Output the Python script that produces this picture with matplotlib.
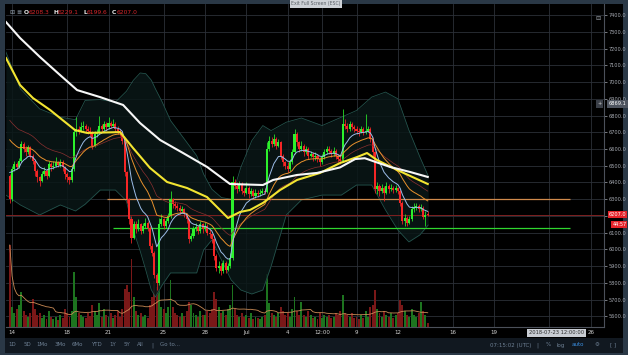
import numpy as np
import pandas as pd
import matplotlib
matplotlib.use("Agg")
import matplotlib.pyplot as plt
from matplotlib.patches import Rectangle

# ---------------- data (4h candles, BTC, Jun 13 20:00 -> Jul 14 04:00 UTC) ----------------
# time axis in days, day 0 = Jun 14 00:00
first_open = 6440
closes = [6300,
    6480, 6510, 6495, 6530, 6630, 6600,   # Jun 14
    6580, 6610, 6560, 6530, 6470, 6430,   # Jun 15
    6410, 6450, 6470, 6440, 6510, 6490,   # Jun 16
    6500, 6520, 6505, 6525, 6490, 6450,   # Jun 17
    6430, 6415, 6480, 6700, 6720, 6710,   # Jun 18
    6730, 6740, 6720, 6710, 6700, 6620,   # Jun 19
    6690, 6700, 6740, 6720, 6750, 6730,   # Jun 20
    6755, 6740, 6750, 6720, 6710, 6700,   # Jun 21
    6650, 6460, 6300, 6180, 6070, 6150,   # Jun 22
    6120, 6150, 6110, 6140, 6160, 6130,   # Jun 23
    6020, 5980, 5850, 5800, 6150, 6180,   # Jun 24
    6140, 6170, 6200, 6300, 6270, 6260,   # Jun 25
    6250, 6230, 6240, 6210, 6180, 6060,   # Jun 26
    6080, 6120, 6135, 6110, 6150, 6120,   # Jun 27
    6140, 6100, 6090, 6060, 5960, 5890,   # Jun 28
    5900, 5870, 5920, 5880, 5900, 5950,   # Jun 29
    6400, 6380, 6360, 6390, 6350, 6340,   # Jun 30
    6370, 6330, 6350, 6320, 6340, 6330,   # Jul 1
    6340, 6350, 6345, 6600, 6650, 6630,   # Jul 2
    6660, 6620, 6640, 6560, 6520, 6500,   # Jul 3
    6480, 6520, 6580, 6690, 6640, 6600,   # Jul 4
    6620, 6580, 6600, 6560, 6570, 6550,   # Jul 5
    6560, 6540, 6520, 6550, 6580, 6600,   # Jul 6
    6590, 6570, 6590, 6560, 6540, 6530,   # Jul 7
    6750, 6740, 6720, 6750, 6730, 6720,   # Jul 8
    6710, 6700, 6720, 6700, 6710, 6720,   # Jul 9
    6660, 6580, 6360, 6380, 6350, 6370,   # Jul 10
    6340, 6380, 6360, 6370, 6355, 6365,   # Jul 11
    6350, 6280, 6170, 6190, 6160, 6180,   # Jul 12
    6240, 6250, 6260, 6240, 6250, 6195,   # Jul 13
    6208.3, 6207.0]                       # Jul 14
highs = [6450,
    6500, 6530, 6525, 6545, 6650, 6640,
    6620, 6625, 6615, 6570, 6540, 6480,
    6440, 6470, 6490, 6480, 6530, 6520,
    6530, 6550, 6530, 6540, 6535, 6500,
    6460, 6440, 6500, 6720, 6790, 6740,
    6760, 6770, 6750, 6735, 6730, 6710,
    6710, 6720, 6800, 6750, 6770, 6760,
    6790, 6770, 6780, 6760, 6735, 6720,
    6710, 6660, 6470, 6310, 6200, 6170,
    6170, 6180, 6160, 6160, 6185, 6170,
    6140, 6040, 5990, 5860, 6190, 6210,
    6190, 6190, 6220, 6350, 6310, 6290,
    6280, 6265, 6260, 6250, 6220, 6190,
    6100, 6140, 6160, 6145, 6170, 6160,
    6165, 6150, 6120, 6100, 6070, 5970,
    5930, 5920, 5940, 5930, 5920, 5980,
    6440, 6420, 6400, 6410, 6400, 6370,
    6400, 6380, 6370, 6360, 6360, 6355,
    6360, 6370, 6365, 6640, 6680, 6670,
    6690, 6670, 6660, 6650, 6570, 6530,
    6520, 6540, 6600, 6720, 6700, 6650,
    6650, 6630, 6620, 6610, 6590, 6580,
    6580, 6570, 6550, 6570, 6600, 6620,
    6620, 6600, 6610, 6600, 6570, 6560,
    6840, 6780, 6755, 6770, 6760, 6745,
    6735, 6725, 6740, 6730, 6810, 6740,
    6730, 6670, 6590, 6400, 6390, 6390,
    6380, 6400, 6390, 6390, 6380, 6385,
    6375, 6360, 6290, 6210, 6200, 6200,
    6260, 6275, 6280, 6270, 6270, 6260,
    6230, 6229.1]
lows = [6280,
    6290, 6470, 6480, 6485, 6520, 6585,
    6560, 6570, 6545, 6510, 6440, 6400,
    6380, 6400, 6440, 6420, 6430, 6470,
    6480, 6490, 6490, 6495, 6470, 6420,
    6400, 6390, 6405, 6470, 6680, 6690,
    6700, 6715, 6700, 6690, 6680, 6600,
    6610, 6670, 6690, 6700, 6710, 6715,
    6720, 6725, 6730, 6700, 6690, 6680,
    6630, 6440, 6280, 6150, 6040, 6060,
    6100, 6110, 6090, 6100, 6130, 6110,
    6000, 5960, 5830, 5760, 5790, 6140,
    6120, 6130, 6160, 6190, 6250, 6240,
    6230, 6210, 6215, 6195, 6160, 6040,
    6050, 6070, 6110, 6095, 6100, 6100,
    6110, 6085, 6070, 6040, 5940, 5870,
    5860, 5850, 5860, 5860, 5870, 5890,
    5940, 6360, 6340, 6350, 6330, 6320,
    6330, 6310, 6320, 6300, 6310, 6315,
    6320, 6330, 6330, 6340, 6590, 6610,
    6620, 6600, 6610, 6540, 6500, 6480,
    6460, 6470, 6510, 6570, 6620, 6580,
    6590, 6560, 6570, 6540, 6550, 6530,
    6535, 6520, 6500, 6510, 6540, 6570,
    6570, 6550, 6560, 6540, 6520, 6510,
    6520, 6720, 6700, 6710, 6715, 6700,
    6690, 6680, 6695, 6685, 6690, 6700,
    6640, 6560, 6340, 6330, 6320, 6340,
    6290, 6330, 6340, 6350, 6340, 6345,
    6330, 6260, 6150, 6140, 6140, 6150,
    6170, 6225, 6235, 6225, 6230, 6180,
    6140, 6199.6]
volumes = [82,
    20, 14, 18, 22, 35, 16,
    12, 10, 14, 28, 18, 12,
    14, 9, 12, 8, 16, 10,
    8, 10, 7, 12, 9, 18,
    14, 10, 16, 55, 30, 14,
    12, 10, 9, 14, 11, 22,
    16, 12, 24, 10, 18, 12,
    10, 14, 9, 12, 16, 10,
    18, 38, 42, 35, 68, 30,
    16, 12, 14, 10, 12, 9,
    22, 30, 46, 40, 50, 20,
    18, 14, 20, 47, 20, 14,
    12, 10, 14, 11, 16, 25,
    22, 14, 12, 10, 16, 12,
    12, 16, 14, 18, 35, 28,
    20, 14, 16, 12, 18, 22,
    42, 18, 12, 10, 14, 10,
    12, 9, 14, 8, 10, 9,
    8, 10, 12, 53, 24, 14,
    12, 10, 14, 20, 16, 12,
    14, 10, 18, 30, 16, 12,
    25, 12, 10, 16, 12, 9,
    10, 8, 14, 9, 12, 10,
    12, 9, 10, 14, 12, 16,
    32, 14, 12, 10, 14, 9,
    10, 8, 12, 9, 16, 10,
    20, 22, 37, 18, 14, 10,
    16, 12, 10, 14, 9, 12,
    14, 27, 22, 16, 12, 10,
    18, 12, 10, 14, 25, 16,
    12, 4]

# long moving averages (day, price)
white_t = [-0.44, 0.58, 2.03, 3.48, 4.72, 6.39, 8.06, 9.29, 10.74, 12.41, 14.15, 15.82,
           18.21, 18.94, 20.68, 22.13, 23.8, 24.9, 25.6, 26.3, 27.43, 28.88, 30.17]
white_v = [7358, 7263, 7149, 7042, 6952, 6910, 6863, 6755, 6654, 6576, 6493, 6391,
           6385, 6415, 6445, 6457, 6490, 6540, 6545, 6525, 6493, 6463, 6433]
yellow_t = [-0.44, 0.58, 1.52, 2.76, 4.57, 5.44, 7.84, 8.78, 10.01, 11.25, 12.7, 14.15,
            15.67, 16.55, 17.27, 18.21, 19.45, 20.68, 22.35, 23.8, 25.04, 25.76, 26.49,
            27.94, 30.17]
yellow_v = [7143, 6982, 6904, 6833, 6713, 6696, 6701, 6606, 6487, 6403, 6367, 6313,
            6188, 6224, 6236, 6278, 6355, 6415, 6457, 6516, 6552, 6576, 6534,
            6475, 6391]

# bollinger bands
band_t = [-0.45, 0.6, 2.0, 3.5, 4.6, 5.3, 6.4, 7.5, 8.3, 8.8, 9.3, 9.7, 10.1, 10.4, 10.9,
          11.5, 12.5, 13.4, 13.9, 14.5, 15.2, 15.9, 16.6, 17.4, 18.2, 18.8, 19.9, 21.0,
          22.5, 23.9, 25.0, 26.1, 27.1, 28.0, 28.8, 29.6, 30.2]
band_up = [7180, 6960, 6840, 6790, 6775, 6890, 6895, 6880, 6945, 7010, 7054, 7050, 7012,
           6960, 6880, 6770, 6660, 6560, 6450, 6360, 6310, 6300, 6490, 6650, 6740, 6710,
           6760, 6785, 6740, 6790, 6830, 6910, 6940, 6900, 6713, 6552, 6440]
band_lo = [6325, 6266, 6206, 6266, 6230, 6270, 6355, 6355, 6290, 6116, 5990, 5878, 5760,
           5716, 5788, 5860, 5860, 5860, 5997, 6057, 5937, 5818, 5758, 5734, 5758, 5900,
           6206, 6296, 6325, 6325, 6385, 6385, 6236, 6116, 6045, 6087, 6146]

# horizontal drawn levels
level_prices = [6300, 6128]
level_start = [6.9, 7.33]
level_end = 40.5
last_price = 6207.0
cross_price = 6869.1

# "23" is hidden under the hovered-date box in the reference
tick_days = [0, 4, 7, 11, 14, 17, 20, 22.5, 25, 28, 32, 35, 39, 42]
tick_labels = ['14', '18', '21', '25', '28', 'Jul', '4', '12:00', '9', '12', '16', '19', '', '26']

# ---------------- figure ----------------
W, H = 628, 355
fig = plt.figure(figsize=(W / 100, H / 100), dpi=100)
fig.patch.set_facecolor('#2a3846')


def fx(px):
    return px / W


def fy(py):
    return 1 - py / H


fig.patches.append(Rectangle((fx(5), fy(338)), fx(623) - fx(5), fy(4) - fy(338),
                             transform=fig.transFigure, fc='black', ec='none', zorder=0))
fig.patches.append(Rectangle((fx(5), fy(353)), fx(623) - fx(5), fy(338) - fy(353),
                             transform=fig.transFigure, fc='#111820', ec='none', zorder=0))

rect = [fx(6), fy(327), fx(604) - fx(6), fy(4) - fy(327)]
ax_v = fig.add_axes(rect)
ax = fig.add_axes(rect)
ax_v.set_zorder(1)
ax.set_zorder(2)
for a in (ax, ax_v):
    a.patch.set_visible(False)
    a.set_xlim(-0.44, 42.96)

ax.set_ylim(5537, 7466)
ax_v.set_ylim(0, 323)
ax_v.set_xticks([])
ax_v.set_yticks([])
for s in ax_v.spines.values():
    s.set_visible(False)

# grid (behind volume)
grid_c = '#2c3038'
for d in tick_days:
    ax_v.axvline(d, color=grid_c, lw=0.6, zorder=0)
for p in range(5600, 7500, 100):
    ax_v.plot([0, 1], [p, p], color=grid_c, lw=0.6, zorder=0,
              transform=ax.get_yaxis_transform())

t = (np.arange(len(closes)) - 1) / 6.0
c = np.array(closes, dtype=float)
o = np.concatenate([[first_open], c[:-1]])
h = np.array(highs, dtype=float)
l = np.array(lows, dtype=float)
up = c >= o

# volume
vol = np.array(volumes, dtype=float)
ax_v.bar(t, vol, width=0.14, color=np.where(up, '#1d741f', '#7a1818'), zorder=1)
vol_ma = pd.Series(vol).rolling(20, min_periods=1).mean()
ax_v.plot(t, vol_ma, color='#c98a55', lw=0.6, zorder=2)

# bollinger
ax.fill_between(band_t, band_lo, band_up, color='#0a1717', alpha=0.85, lw=0, zorder=1)
ax.plot(band_t, band_up, color='#25564f', lw=0.55, zorder=1.2)
ax.plot(band_t, band_lo, color='#25564f', lw=0.55, zorder=1.2)

# levels
ax.hlines(level_prices, level_start, level_end, colors=['#d08a4c', '#2fd62f'],
          lw=0.9, zorder=1.5)
ax.axhline(last_price, color='#7e2020', lw=0.7, zorder=1.4)

# candles
cols = np.where(up, '#2cf02c', '#f52626')
ax.vlines(t, l, h, colors=cols, lw=0.55, zorder=2)
body = np.maximum(np.abs(c - o), 4)
ax.bar(t, body, bottom=np.minimum(o, c), width=0.15, color=cols, zorder=2.1)


# short moving averages from the closes (seeded at the first visible value)
def ema(vals, span, seed):
    k = 2.0 / (span + 1)
    out, e = [], seed
    for v in vals:
        e += k * (v - e)
        out.append(e)
    return np.array(out)


ax.plot(t, ema(c, 34, 6800), color='#8a3030', lw=0.5, zorder=2.5)
ax.plot(t, ema(c, 21, 6690), color='#e8912d', lw=0.7, zorder=2.6)
ax.plot(t, ema(c, 9, 6500), color='#9cbde8', lw=0.7, zorder=2.7)
ax.plot(yellow_t, yellow_v, color='#f2e431', lw=1.5, zorder=3)
ax.plot(white_t, white_v, color='#f7f7f7', lw=1.5, zorder=3.1)

# axes styling
for s in ('top', 'left'):
    ax.spines[s].set_visible(False)
for s in ('right', 'bottom'):
    ax.spines[s].set_color('#4b505a')
    ax.spines[s].set_linewidth(0.8)

ax.yaxis.tick_right()
yt = np.arange(5600, 7401, 100)
ax.set_yticks(yt)
# the 6200 label sits under the last-price box, as in the reference
ax.set_yticklabels(['' if v == 6200 else f'{v:.1f}' for v in yt])
ax.tick_params(axis='y', colors='#a7abb3', labelsize=3.6, length=2, width=0.5, pad=1.5)
ax.set_xticks(tick_days)
ax.set_xticklabels(tick_labels)
ax.tick_params(axis='x', colors='#d2d2d2', labelsize=4, length=0, pad=2.5)

# price labels on the right scale
ytr = ax.get_yaxis_transform()
ax.text(1.008, cross_price, f'{cross_price:.1f}', transform=ytr, ha='left', va='center',
        fontsize=3.6, color='white', zorder=5, clip_on=False,
        bbox=dict(boxstyle='square,pad=0.3', fc='#4e545f', ec='none'))
ax.text(0.992, cross_price, '+', transform=ytr, ha='center', va='center', fontsize=3.6,
        color='#d0d0d0', zorder=5, bbox=dict(boxstyle='square,pad=0.25', fc='#3a3f48', ec='none'))
ax.text(1.008, last_price, f'{last_price:.1f}', transform=ytr, ha='left', va='center',
        fontsize=3.6, color='white', zorder=5, clip_on=False,
        bbox=dict(boxstyle='square,pad=0.2', fc='#e3232a', ec='none'))
ax.annotate('44:57', xy=(1.0, last_price), xycoords=ytr, xytext=(6, -7.2),
            textcoords='offset points', ha='left', va='center', fontsize=3.6, color='white',
            annotation_clip=False, bbox=dict(boxstyle='square,pad=0.2', fc='#e3232a', ec='none'))

# hovered date on the time scale
ax.annotate('2018-07-23 12:00:00', xy=(39.5, 0), xycoords=ax.get_xaxis_transform(),
            xytext=(0, -4.2), textcoords='offset points', ha='center', va='center',
            fontsize=3.7, color='#2a2a2a', annotation_clip=False, zorder=6,
            bbox=dict(boxstyle='square,pad=0.35', fc='#c9cdd3', ec='none'))

# top-left OHLC legend
fig.text(fx(9), fy(13), '⊞', fontsize=4.5, color='#8a96a3', va='center')
fig.text(fx(16), fy(13), '≣', fontsize=4.5, color='#8a96a3', va='center')
for lx, letter, vx, val in [(24, 'O', 29, '6208.3'), (53, 'H', 58, '6229.1'),
                            (83, 'L', 87, '6199.6'), (112, 'C', 117, '6207.0')]:
    fig.text(fx(lx), fy(13), letter, fontsize=4.3, color='#e6e6e6', va='center', weight='bold')
    fig.text(fx(vx), fy(13), val, fontsize=4.3, color='#d6262b', va='center')

fig.text(fx(316), fy(3.5), 'Exit Full Screen (ESC)', fontsize=3.3, color='#5a5f66',
         ha='center', va='center', bbox=dict(boxstyle='square,pad=0.35', fc='#cdd1d6', ec='none'))
fig.text(fx(598), fy(18), '⊟', fontsize=4.5, color='#9aa0a8', ha='center', va='center')

# bottom toolbar
tb_c = '#6d7f93'
for bx, lab in [(12, '1D'), (27, '5D'), (42, '1Mo'), (60, '3Mo'), (77, '6Mo'), (96, 'YTD'),
                (113, '1Y'), (127, '5Y'), (140, 'All'), (152, '|'), (170, 'Go to...')]:
    fig.text(fx(bx), fy(345), lab, fontsize=4, color=tb_c, ha='center', va='center')
for bx, lab, col in [(511, '07:15:02 (UTC)', tb_c), (537, '|', tb_c), (548, '%', tb_c),
                     (561, 'log', tb_c), (578, 'auto', '#3a8ee0'), (597, '⚙', tb_c),
                     (613, '[ ]', tb_c)]:
    fig.text(fx(bx), fy(345), lab, fontsize=4, color=col, ha='center', va='center')

fig.savefig('out.png', dpi=100, facecolor=fig.get_facecolor())
